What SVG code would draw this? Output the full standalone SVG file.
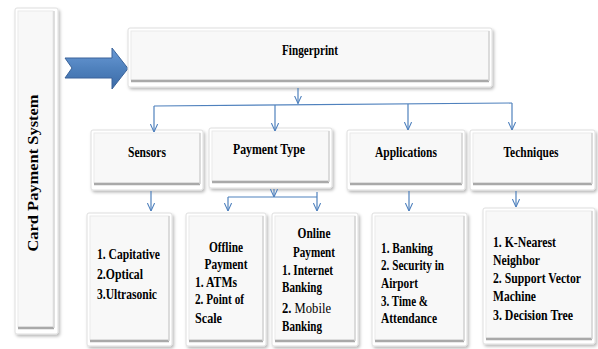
<svg xmlns="http://www.w3.org/2000/svg" width="598" height="349" viewBox="0 0 598 349">
  <defs>
    <filter id="shadow" x="-20%" y="-20%" width="140%" height="140%">
      <feDropShadow dx="1.5" dy="2" stdDeviation="1.6" flood-color="#000" flood-opacity="0.28"/>
    </filter>
    <linearGradient id="arrowFill" x1="0" y1="0" x2="0" y2="1">
      <stop offset="0" stop-color="#6a9ad6"/>
      <stop offset="0.5" stop-color="#4f81bd"/>
      <stop offset="1" stop-color="#3b6aa6"/>
    </linearGradient>
    <marker id="head" viewBox="0 0 10 10" refX="10" refY="5" markerWidth="8" markerHeight="8" markerUnits="userSpaceOnUse" orient="auto">
      <path d="M0,0.5 L10,5 L0,9.5" fill="none" stroke="#4f81bd" stroke-width="1.3"/>
    </marker>
    <style>
      .outer { fill: #ffffff; stroke: #dedede; stroke-width: 1; filter: url(#shadow); }
      .face { fill: #f8f8f8; stroke: #e9e9e9; stroke-width: 1; }
      .bevel-b { stroke: #a9a9a9; stroke-width: 2.5; }
      .bevel-s { stroke: #d4d4d4; stroke-width: 1.5; }
      .t { font-family: "Liberation Serif", "Times New Roman", serif; font-weight: bold; font-size: 15px; fill: #000; }
      .c { text-anchor: middle; }
      .wire { fill: none; stroke: #4f81bd; stroke-width: 1.2; }
      .arrow { marker-end: url(#head); }
    </style>
  </defs>

  <rect width="598" height="349" fill="#ffffff"/>

  <!-- side title -->
  <g id="card-payment-system">
    <rect class="outer" x="15" y="8" width="43" height="326" rx="2"/>
    <rect class="face" x="18" y="11" width="35" height="316"/>
    <line class="bevel-b" x1="18" y1="328" x2="54" y2="328"/>
    <line class="bevel-s" x1="54" y1="11" x2="54" y2="328"/>
    <text class="t c" transform="translate(38,173) rotate(-90)" font-size="15" textLength="157" lengthAdjust="spacingAndGlyphs">Card Payment System</text>
  </g>

  <!-- block arrow into the root -->
  <g id="entry-arrow">
    <polygon points="65,58 112,58 112,48 128,68.5 112,89 112,78 65,78 72,68" fill="url(#arrowFill)" stroke="#3a639a" stroke-width="1"/>
  </g>

  <!-- root -->
  <g id="fingerprint">
    <rect class="outer" x="128" y="28" width="364" height="59" rx="2"/>
    <rect class="face" x="131" y="31" width="358" height="49"/>
    <line class="bevel-b" x1="131" y1="81" x2="489" y2="81"/>
    <line class="bevel-s" x1="489" y1="31" x2="489" y2="81"/>
    <text class="t c" x="310" y="55" textLength="56" lengthAdjust="spacingAndGlyphs">Fingerprint</text>
  </g>

  <!-- second row -->
  <g id="sensors">
    <rect class="outer" x="91" y="130" width="112" height="60" rx="2"/>
    <rect class="face" x="94" y="133" width="106" height="50"/>
    <line class="bevel-b" x1="94" y1="184" x2="200" y2="184"/>
    <line class="bevel-s" x1="200" y1="133" x2="200" y2="184"/>
    <text class="t c" x="147" y="157" textLength="38" lengthAdjust="spacingAndGlyphs">Sensors</text>
  </g>
  <g id="payment-type">
    <rect class="outer" x="209" y="128" width="123" height="60" rx="2"/>
    <rect class="face" x="212" y="131" width="117" height="50"/>
    <line class="bevel-b" x1="212" y1="182" x2="329" y2="182"/>
    <line class="bevel-s" x1="329" y1="131" x2="329" y2="182"/>
    <text class="t c" x="269" y="154" textLength="72" lengthAdjust="spacingAndGlyphs">Payment Type</text>
  </g>
  <g id="applications">
    <rect class="outer" x="347" y="130" width="118" height="60" rx="2"/>
    <rect class="face" x="350" y="133" width="112" height="50"/>
    <line class="bevel-b" x1="350" y1="184" x2="462" y2="184"/>
    <line class="bevel-s" x1="462" y1="133" x2="462" y2="184"/>
    <text class="t c" x="406" y="157" textLength="62" lengthAdjust="spacingAndGlyphs">Applications</text>
  </g>
  <g id="techniques">
    <rect class="outer" x="470" y="130" width="125" height="60" rx="2"/>
    <rect class="face" x="473" y="133" width="119" height="50"/>
    <line class="bevel-b" x1="473" y1="184" x2="592" y2="184"/>
    <line class="bevel-s" x1="592" y1="133" x2="592" y2="184"/>
    <text class="t c" x="531" y="157" textLength="55" lengthAdjust="spacingAndGlyphs">Techniques</text>
  </g>

  <!-- third row -->
  <g id="sensor-list">
    <rect class="outer" x="87" y="213" width="85" height="133" rx="2"/>
    <rect class="face" x="90" y="216" width="79" height="124"/>
    <line class="bevel-b" x1="90" y1="341" x2="169" y2="341"/>
    <line class="bevel-s" x1="169" y1="216" x2="169" y2="341"/>
    <text class="t" x="97" y="259" textLength="63" lengthAdjust="spacingAndGlyphs">1. Capitative</text>
    <text class="t" x="97" y="279" textLength="46" lengthAdjust="spacingAndGlyphs">2.Optical</text>
    <text class="t" x="97" y="299" textLength="60" lengthAdjust="spacingAndGlyphs">3.Ultrasonic</text>
  </g>
  <g id="offline-payment">
    <rect class="outer" x="186" y="213" width="80" height="133" rx="2"/>
    <rect class="face" x="189" y="216" width="74" height="124"/>
    <line class="bevel-b" x1="189" y1="341" x2="263" y2="341"/>
    <line class="bevel-s" x1="263" y1="216" x2="263" y2="341"/>
    <text class="t c" x="226" y="252" textLength="34" lengthAdjust="spacingAndGlyphs">Offline</text>
    <text class="t c" x="226" y="269" textLength="43" lengthAdjust="spacingAndGlyphs">Payment</text>
    <text class="t" x="195" y="287" textLength="42" lengthAdjust="spacingAndGlyphs">1. ATMs</text>
    <text class="t" x="195" y="304" textLength="49" lengthAdjust="spacingAndGlyphs">2. Point of</text>
    <text class="t" x="195" y="323" textLength="27" lengthAdjust="spacingAndGlyphs">Scale</text>
  </g>
  <g id="online-payment">
    <rect class="outer" x="272" y="213" width="86" height="133" rx="2"/>
    <rect class="face" x="275" y="216" width="80" height="124"/>
    <line class="bevel-b" x1="275" y1="341" x2="355" y2="341"/>
    <line class="bevel-s" x1="355" y1="216" x2="355" y2="341"/>
    <text class="t c" x="314" y="238" textLength="33" lengthAdjust="spacingAndGlyphs">Online</text>
    <text class="t c" x="314" y="257" textLength="42" lengthAdjust="spacingAndGlyphs">Payment</text>
    <text class="t" x="282" y="275" textLength="51" lengthAdjust="spacingAndGlyphs">1. Internet</text>
    <text class="t" x="282" y="292" textLength="40" lengthAdjust="spacingAndGlyphs">Banking</text>
    <text class="t" x="282" y="313" textLength="49" lengthAdjust="spacingAndGlyphs">2. <tspan font-weight="normal">Mobile</tspan></text>
    <text class="t" x="282" y="331" textLength="40" lengthAdjust="spacingAndGlyphs">Banking</text>
  </g>
  <g id="application-list">
    <rect class="outer" x="372" y="213" width="95" height="133" rx="2"/>
    <rect class="face" x="375" y="216" width="89" height="124"/>
    <line class="bevel-b" x1="375" y1="341" x2="464" y2="341"/>
    <line class="bevel-s" x1="464" y1="216" x2="464" y2="341"/>
    <text class="t" x="381" y="253" textLength="52" lengthAdjust="spacingAndGlyphs">1. Banking</text>
    <text class="t" x="381" y="270" textLength="63" lengthAdjust="spacingAndGlyphs">2. Security in</text>
    <text class="t" x="381" y="288" textLength="37" lengthAdjust="spacingAndGlyphs">Airport</text>
    <text class="t" x="381" y="306" textLength="47" lengthAdjust="spacingAndGlyphs">3. Time &amp;</text>
    <text class="t" x="381" y="323" textLength="56" lengthAdjust="spacingAndGlyphs">Attendance</text>
  </g>
  <g id="technique-list">
    <rect class="outer" x="483" y="208" width="112" height="136" rx="2"/>
    <rect class="face" x="486" y="211" width="106" height="127"/>
    <line class="bevel-b" x1="486" y1="339" x2="592" y2="339"/>
    <line class="bevel-s" x1="592" y1="211" x2="592" y2="339"/>
    <text class="t" x="493" y="247" textLength="63" lengthAdjust="spacingAndGlyphs">1. K-Nearest</text>
    <text class="t" x="493" y="265" textLength="47" lengthAdjust="spacingAndGlyphs">Neighbor</text>
    <text class="t" x="493" y="283" textLength="88" lengthAdjust="spacingAndGlyphs">2. Support Vector</text>
    <text class="t" x="493" y="301" textLength="43" lengthAdjust="spacingAndGlyphs">Machine</text>
    <text class="t" x="493" y="320" textLength="80" lengthAdjust="spacingAndGlyphs">3. Decision Tree</text>
  </g>

  <!-- connectors -->
  <g id="connectors">
    <line class="wire arrow" x1="298" y1="88" x2="298" y2="103.5"/>
    <line class="wire" x1="154" y1="106" x2="512" y2="103"/>
    <line class="wire arrow" x1="154" y1="106" x2="154" y2="132"/>
    <line class="wire arrow" x1="275" y1="105" x2="275" y2="131"/>
    <line class="wire arrow" x1="408" y1="104" x2="408" y2="130"/>
    <line class="wire arrow" x1="512" y1="103" x2="512" y2="130"/>

    <line class="wire arrow" x1="151" y1="191" x2="151" y2="211"/>
    <line class="wire arrow" x1="274" y1="189" x2="274" y2="197"/>
    <line class="wire" x1="228" y1="197" x2="317" y2="197"/>
    <line class="wire arrow" x1="228" y1="197" x2="228" y2="211"/>
    <line class="wire arrow" x1="317" y1="192" x2="317" y2="211"/>
    <line class="wire arrow" x1="409" y1="191" x2="409" y2="211"/>
    <line class="wire arrow" x1="516" y1="191" x2="516" y2="207"/>
  </g>
</svg>
